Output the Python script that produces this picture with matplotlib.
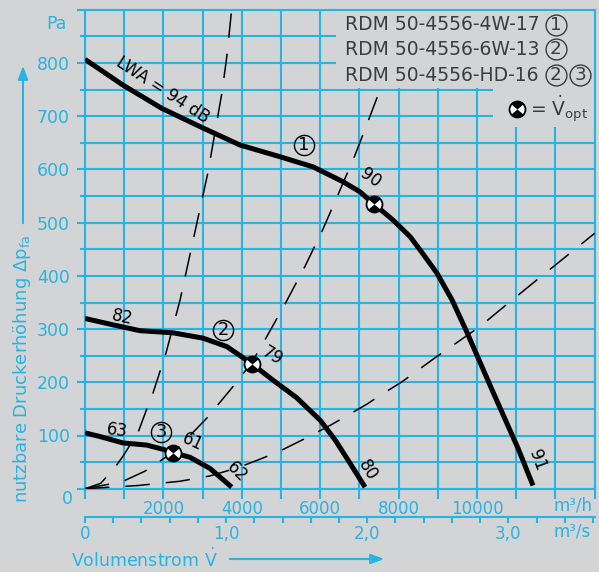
import numpy as np
import matplotlib
matplotlib.use("Agg")
import matplotlib.pyplot as plt
import matplotlib.ticker as mtick
from matplotlib.path import Path
from matplotlib.patches import Rectangle, FancyArrowPatch

# ── Farben / Schrift ─────────────────────────────────────────────────────────
C_BG   = "#d3d4d6"
C_CYAN = "#27b4e2"
C_TXT  = "#3c3c3c"
plt.rcParams["font.family"] = ["DejaVu Sans"]
plt.rcParams["mathtext.fontset"] = "dejavusans"

# ── Ventilatorkennlinien: Volumenstrom (m³/h) / Druck (Pa) ──────────────────
q_4w17 = [0, 962, 1957, 2952, 3954, 4974, 5816, 6582, 7015, 7372, 7857, 8291,
          8546, 8980, 9362, 9719, 10051, 10383, 10714, 11046, 11429]
p_4w17 = [807, 759, 715, 680, 646, 624, 605, 577, 558, 535, 505, 474,
          449, 405, 355, 298, 242, 186, 131, 76, 6]

q_6w13 = [0, 714, 1403, 2245, 3010, 3622, 4253, 4796, 5400, 5995, 6378, 6760, 7143]
p_6w13 = [320, 308, 297, 293, 283, 267, 235, 204, 171, 129, 92, 48, 3]

q_hd16 = [0, 383, 969, 1574, 1990, 2237, 2679, 3189, 3742]
p_hd16 = [105, 98, 86, 82, 74, 68, 59, 38, 3]

# ── Anlagenkennlinien (gestrichelt) ──────────────────────────────────────────
q_anl_a = [0, 400, 765, 978, 1360, 1582, 1735, 2066, 2423, 3138, 3316, 3495, 3622, 3740]
p_anl_a = [0, 10, 40, 62, 107, 151, 180, 255, 354, 595, 670, 745, 815, 900]

q_anl_b = [0, 944, 1530, 1913, 2237, 2679, 3112, 3776, 4253, 4592, 5102, 5612,
           6071, 6480, 6888, 7270, 7526]
p_anl_b = [0, 13, 33, 52, 68, 100, 133, 192, 237, 280, 347, 418,
           488, 557, 627, 700, 750]

q_anl_c = [0, 1352, 2423, 3189, 3878, 4413, 4923, 5689, 6276, 6633, 7194, 7500,
           8087, 8929, 10077, 10587, 11403, 12194, 13000]
p_anl_c = [0, 6, 14, 24, 39, 54, 69, 97, 120, 135, 159, 174,
           201, 246, 305, 336, 385, 432, 480]

# ── Optimale Betriebspunkte ─────────────────────────────────────────────────
q_opt = [7372, 4253, 2237]
p_opt = [535, 235, 68]

# ── Achsen ───────────────────────────────────────────────────────────────────
y_ticks = list(range(0, 901, 100))
y_labels = ["", "100", "200", "300", "400", "500", "600", "700", "800", ""]
x_ticks = list(range(0, 13001, 1000))
x_labels = ["", "", "2000", "", "4000", "", "6000", "", "8000", "", "10000", "", "", ""]
ms_ticks = [0, 1, 2, 3]
ms_labels = ["0", "1,0", "2,0", "3,0"]

legend_rows = ["RDM 50-4556-4W-17", "RDM 50-4556-6W-13", "RDM 50-4556-HD-16"]

fig = plt.figure(figsize=(5.99, 5.72), dpi=100, facecolor=C_BG)
ax = fig.add_axes([85 / 599, 1 - 488.7 / 572, 509.6 / 599, 478.8 / 572])
ax.set_facecolor(C_BG)
ax.set_xlim(0, 13000)
ax.set_ylim(0, 900)

ax.set_xticks(x_ticks)
ax.set_xticklabels(x_labels)
ax.set_yticks(y_ticks)
ax.set_yticklabels(y_labels)
ax.yaxis.set_minor_locator(mtick.MultipleLocator(50))
ax.tick_params(axis="x", which="major", direction="out", length=7, width=1.5,
               color=C_CYAN, labelcolor=C_CYAN, labelsize=12, pad=1)
ax.tick_params(axis="y", which="major", direction="out", length=5.8, width=1.5,
               color=C_CYAN, labelcolor=C_CYAN, labelsize=12.5, pad=5)
ax.tick_params(axis="y", which="minor", direction="out", length=3.6, width=1.5,
               color=C_CYAN)
ax.set_axisbelow(True)
ax.grid(which="both", color=C_CYAN, linewidth=1.5)
for s in ax.spines.values():
    s.set_color(C_CYAN)
    s.set_linewidth(1.5)

# Legendenfläche deckt das Raster ab
ax.add_patch(Rectangle((6403, 753), 13000 - 6403, 147, fc=C_BG, ec="none", zorder=1))
ax.add_patch(Rectangle((10408, 680), 13000 - 10408, 220, fc=C_BG, ec="none", zorder=1))

# Gestrichelte Anlagenkennlinien
for q, p in [(q_anl_a, p_anl_a), (q_anl_b, p_anl_b), (q_anl_c, p_anl_c)]:
    ax.plot(q, p, color="black", lw=1.1, dashes=(16, 10.5), zorder=3)

# Ventilatorkennlinien
for q, p in [(q_4w17, p_4w17), (q_6w13, p_6w13), (q_hd16, p_hd16)]:
    ax.plot(q, p, color="black", lw=3.6, solid_capstyle="butt",
            solid_joinstyle="round", zorder=4)

# Symbol V_opt: Kreis mit schwarzen Sektoren oben/unten
SEKTOR = Path.make_compound_path(Path.wedge(40, 140), Path.wedge(220, 320))
r_sek = np.abs(SEKTOR.vertices).max()


def opt_symbol(q, p):
    ax.plot(q, p, ls="none", marker="o", ms=11.5, mfc="white", mec="black",
            mew=1.3, zorder=6, clip_on=False)
    ax.plot(q, p, ls="none", marker=SEKTOR, ms=11.5 * r_sek, mfc="black",
            mec="none", zorder=7, clip_on=False)


def kreis_nr(q, p, nr, color, size=14.5):
    # eingekreiste Ziffer: dünner Kreis + Ziffer
    ax.plot([q], [p], ls="none", marker="o", ms=size, mfc="none", mec=color,
            mew=1.0, zorder=5, clip_on=False)
    ax.text(q, p, nr, fontsize=size * 0.88, color=color, ha="center", va="center",
            zorder=5)


opt_symbol(q_opt, p_opt)

# Kurvenbeschriftungen
labels = [
    ("LWA = 94 dB", 1990, 749, -33),
    ("90", 7270, 584, -35),
    ("82", 944, 323, -12),
    ("79", 4770, 249, -30),
    ("80", 7219, 35, -58),
    ("63", 816, 110, -8),
    ("61", 2755, 88, -25),
    ("62", 3878, 31, -45),
    ("91", 11531, 54, -70),
]
for txt, q, p, rot in labels:
    ax.text(q, p, txt, fontsize=12, color="black", rotation=rot,
            rotation_mode="anchor", ha="center", va="center", zorder=5)

for nr, q, p in [("1", 5587, 646), ("2", 3520, 298), ("3", 1939, 106)]:
    kreis_nr(q, p, nr, "black")

# Legende
for row, y in zip(legend_rows, [872, 826, 777]):
    ax.text(6633, y, row, fontsize=13.5, color=C_TXT, ha="left", va="center", zorder=5)
for nr, q, p in [("1", 12010, 872), ("2", 12010, 826), ("2", 12010, 777), ("3", 12640, 777)]:
    kreis_nr(q, p, nr, C_TXT, size=15)
opt_symbol([11020], [713])
ax.text(11352, 713, r"= $\dot{\mathregular{V}}_{\mathregular{opt}}$", fontsize=13.5,
        color=C_TXT, ha="left", va="center", zorder=5)

# Achsbeschriftungen
ax.text(-459, 873, "Pa", fontsize=12.5, color=C_CYAN, ha="right", va="center")
ax.text(-300, -19, "0", fontsize=12.5, color=C_CYAN, ha="right", va="center", clip_on=False)
ax.text(12449, -31, "m³/h", fontsize=12, color=C_CYAN, ha="center", va="center", clip_on=False)

# Zweite Achse in m³/s
ax2 = fig.add_axes([85 / 599, 1 - 516.7 / 572, 509.6 / 599, 1e-4])
ax2.set_xlim(0, 13000 / 3600)
ax2.set_facecolor("none")
for s in ["top", "left", "right"]:
    ax2.spines[s].set_visible(False)
ax2.spines["bottom"].set_color(C_CYAN)
ax2.spines["bottom"].set_linewidth(1.5)
ax2.set_yticks([])
ax2.set_xticks(ms_ticks)
ax2.set_xticklabels(ms_labels)
ax2.xaxis.set_minor_locator(mtick.MultipleLocator(0.2))
ax2.tick_params(axis="x", which="both", direction="out", length=4, width=1.5,
                color=C_CYAN, labelcolor=C_CYAN, labelsize=12, pad=2)
fig.text(572 / 599, 1 - 532 / 572, "m³/s", fontsize=12, color=C_CYAN,
         ha="center", va="center")

# Achstitel mit Pfeilen
fig.text(144 / 599, 1 - 559 / 572, r"Volumenstrom $\dot{\mathregular{V}}$", fontsize=12.5,
         color=C_CYAN, ha="center", va="center")
fig.add_artist(FancyArrowPatch(
    (227 / 599, 1 - 559 / 572), (387 / 599, 1 - 559 / 572), transform=fig.transFigure,
    arrowstyle="-|>,head_length=0.8,head_width=0.3", mutation_scale=10,
    color=C_CYAN, lw=1.5))
fig.text(22 / 599, 1 - 369 / 572, r"nutzbare Druckerhöhung Δp$_{\mathregular{fa}}$",
         fontsize=13, color=C_CYAN, rotation=90, ha="center", va="center")
fig.add_artist(FancyArrowPatch(
    (23 / 599, 1 - 226 / 572), (23 / 599, 1 - 63 / 572), transform=fig.transFigure,
    arrowstyle="-|>,head_length=0.8,head_width=0.3", mutation_scale=10,
    color=C_CYAN, lw=1.5))

fig.savefig("out.png", dpi=100, facecolor=C_BG)
